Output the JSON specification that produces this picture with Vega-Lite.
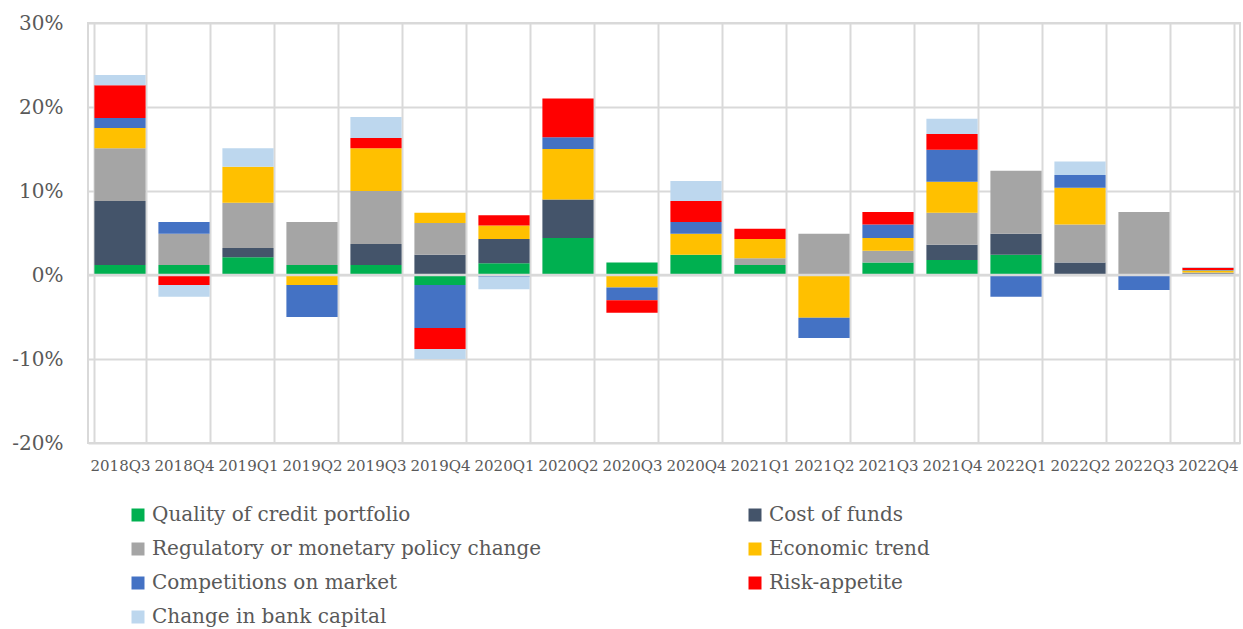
{
  "$schema": "https://vega.github.io/schema/vega-lite/v6.json",
  "autosize": {"type": "none"},
  "padding": {"left": 88, "top": 23, "right": 3, "bottom": 186},
  "width": 1152,
  "height": 420,
  "background": "white",
  "config": {
    "font": "DejaVu Serif",
    "view": {"stroke": "#d9d9d9", "strokeWidth": 2}
  },
  "data": {
    "values": [
      {"q": "2018Q3", "Quality of credit portfolio": 1.2, "Cost of funds": 7.6, "Regulatory or monetary policy change": 6.3, "Economic trend": 2.4, "Competitions on market": 1.2, "Risk-appetite": 3.9, "Change in bank capital": 1.2},
      {"q": "2018Q4", "Quality of credit portfolio": 1.2, "Cost of funds": 0, "Regulatory or monetary policy change": 3.7, "Economic trend": 0, "Competitions on market": 1.4, "Risk-appetite": -1.2, "Change in bank capital": -1.4},
      {"q": "2019Q1", "Quality of credit portfolio": 2.1, "Cost of funds": 1.1, "Regulatory or monetary policy change": 5.4, "Economic trend": 4.3, "Competitions on market": 0, "Risk-appetite": 0, "Change in bank capital": 2.2},
      {"q": "2019Q2", "Quality of credit portfolio": 1.2, "Cost of funds": 0, "Regulatory or monetary policy change": 5.1, "Economic trend": -1.2, "Competitions on market": -3.8, "Risk-appetite": 0, "Change in bank capital": 0},
      {"q": "2019Q3", "Quality of credit portfolio": 1.2, "Cost of funds": 2.5, "Regulatory or monetary policy change": 6.3, "Economic trend": 5.1, "Competitions on market": 0, "Risk-appetite": 1.2, "Change in bank capital": 2.5},
      {"q": "2019Q4", "Quality of credit portfolio": -1.2, "Cost of funds": 2.4, "Regulatory or monetary policy change": 3.8, "Economic trend": 1.2, "Competitions on market": -5.1, "Risk-appetite": -2.5, "Change in bank capital": -1.2},
      {"q": "2020Q1", "Quality of credit portfolio": 1.4, "Cost of funds": 2.9, "Regulatory or monetary policy change": 0, "Economic trend": 1.6, "Competitions on market": -0.2, "Risk-appetite": 1.2, "Change in bank capital": -1.5},
      {"q": "2020Q2", "Quality of credit portfolio": 4.4, "Cost of funds": 4.6, "Regulatory or monetary policy change": 0, "Economic trend": 6.0, "Competitions on market": 1.4, "Risk-appetite": 4.6, "Change in bank capital": 0},
      {"q": "2020Q3", "Quality of credit portfolio": 1.5, "Cost of funds": 0, "Regulatory or monetary policy change": 0, "Economic trend": -1.5, "Competitions on market": -1.5, "Risk-appetite": -1.5, "Change in bank capital": 0},
      {"q": "2020Q4", "Quality of credit portfolio": 2.4, "Cost of funds": 0, "Regulatory or monetary policy change": 0, "Economic trend": 2.5, "Competitions on market": 1.4, "Risk-appetite": 2.5, "Change in bank capital": 2.4},
      {"q": "2021Q1", "Quality of credit portfolio": 1.2, "Cost of funds": 0, "Regulatory or monetary policy change": 0.8, "Economic trend": 2.3, "Competitions on market": 0, "Risk-appetite": 1.2, "Change in bank capital": 0},
      {"q": "2021Q2", "Quality of credit portfolio": 0, "Cost of funds": 0, "Regulatory or monetary policy change": 4.9, "Economic trend": -5.1, "Competitions on market": -2.4, "Risk-appetite": 0, "Change in bank capital": 0},
      {"q": "2021Q3", "Quality of credit portfolio": 1.5, "Cost of funds": 0, "Regulatory or monetary policy change": 1.4, "Economic trend": 1.5, "Competitions on market": 1.6, "Risk-appetite": 1.5, "Change in bank capital": 0},
      {"q": "2021Q4", "Quality of credit portfolio": 1.8, "Cost of funds": 1.8, "Regulatory or monetary policy change": 3.8, "Economic trend": 3.7, "Competitions on market": 3.8, "Risk-appetite": 1.9, "Change in bank capital": 1.8},
      {"q": "2022Q1", "Quality of credit portfolio": 2.4, "Cost of funds": 2.5, "Regulatory or monetary policy change": 7.5, "Economic trend": 0, "Competitions on market": -2.6, "Risk-appetite": 0, "Change in bank capital": 0},
      {"q": "2022Q2", "Quality of credit portfolio": 0, "Cost of funds": 1.5, "Regulatory or monetary policy change": 4.5, "Economic trend": 4.4, "Competitions on market": 1.5, "Risk-appetite": 0, "Change in bank capital": 1.6},
      {"q": "2022Q3", "Quality of credit portfolio": 0, "Cost of funds": 0, "Regulatory or monetary policy change": 7.5, "Economic trend": 0, "Competitions on market": -1.8, "Risk-appetite": 0, "Change in bank capital": 0},
      {"q": "2022Q4", "Quality of credit portfolio": 0, "Cost of funds": 0.2, "Regulatory or monetary policy change": 0.1, "Economic trend": 0.25, "Competitions on market": 0.05, "Risk-appetite": 0.25, "Change in bank capital": 0.1}
    ]
  },
  "layer": [
    {
      "transform": [
        {"fold": ["Quality of credit portfolio", "Cost of funds", "Regulatory or monetary policy change", "Economic trend", "Competitions on market", "Risk-appetite", "Change in bank capital"], "as": ["factor", "value"]},
        {"filter": "datum.value != 0"},
        {"calculate": "indexof(['Quality of credit portfolio', 'Cost of funds', 'Regulatory or monetary policy change', 'Economic trend', 'Competitions on market', 'Risk-appetite', 'Change in bank capital'], datum.factor)", "as": "seriesIndex"}
      ],
      "mark": {"type": "bar"},
      "encoding": {
        "x": {
          "field": "q",
          "type": "nominal",
          "sort": null,
          "title": null,
          "scale": {"paddingInner": 0.2, "paddingOuter": 0.1},
          "axis": {
            "labelAngle": 0,
            "labelFont": "DejaVu Serif",
            "labelFontSize": 15,
            "labelColor": "#595959",
            "labelPadding": 15,
            "tickSize": 0,
            "ticks": false,
            "domain": false,
            "grid": true,
            "tickBand": "extent",
            "gridColor": "#d9d9d9",
            "gridWidth": 2
          }
        },
        "y": {
          "field": "value",
          "type": "quantitative",
          "stack": "zero",
          "title": null,
          "scale": {"domain": [-20, 30], "nice": false},
          "axis": {
            "values": [-20, -10, 0, 10, 20, 30],
            "labelExpr": "datum.value + '%'",
            "labelFont": "DejaVu Serif",
            "labelFontSize": 20,
            "labelColor": "#595959",
            "labelPadding": 25,
            "ticks": false,
            "tickSize": 0,
            "domain": false,
            "grid": true,
            "gridColor": "#d9d9d9",
            "gridWidth": 2
          }
        },
        "color": {
          "field": "factor",
          "type": "nominal",
          "scale": {
            "domain": ["Quality of credit portfolio", "Cost of funds", "Regulatory or monetary policy change", "Economic trend", "Competitions on market", "Risk-appetite", "Change in bank capital"],
            "range": ["#00b050", "#44546a", "#a5a5a5", "#ffc000", "#4472c4", "#ff0000", "#bdd7ee"]
          },
          "legend": {
            "title": null,
            "orient": "none",
            "legendX": 40,
            "legendY": 482,
            "columns": 2,
            "direction": "horizontal",
            "symbolType": "square",
            "symbolSize": 169,
            "symbolStrokeWidth": 0,
            "labelFont": "DejaVu Serif",
            "labelFontSize": 20,
            "labelColor": "#595959",
            "labelOffset": 4,
            "columnPadding": 203,
            "rowPadding": 14,
            "labelLimit": 500
          }
        },
        "order": {"field": "seriesIndex", "type": "quantitative", "sort": "ascending"}
      }
    },
    {
      "data": {"values": [{"level": 0}]},
      "mark": {"type": "rule", "color": "#d9d9d9", "strokeWidth": 2.5},
      "encoding": {"y": {"field": "level", "type": "quantitative"}}
    }
  ]
}
